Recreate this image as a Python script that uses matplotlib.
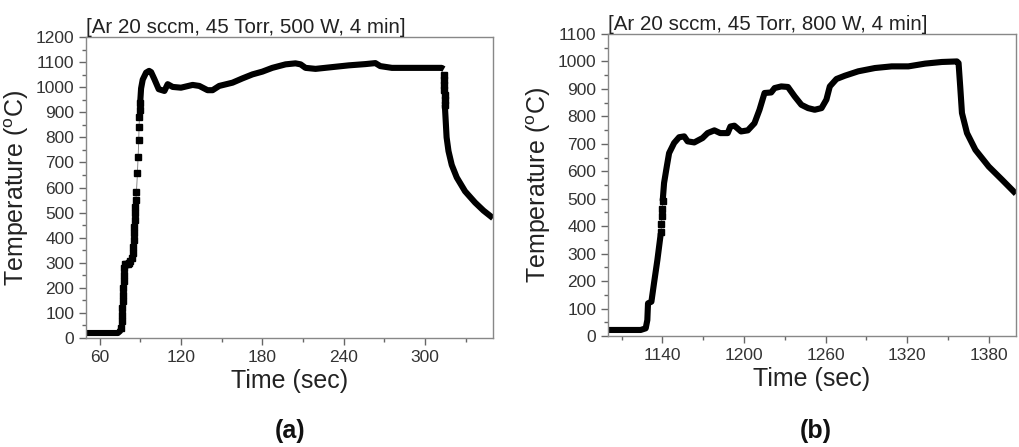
import numpy as np
import matplotlib
matplotlib.use("Agg")
import matplotlib.pyplot as plt
from matplotlib.ticker import MultipleLocator

plt.rcParams['font.family'] = ['Liberation Sans', 'DejaVu Sans']

# ---- panel (a): 500 W ----
a_title = "[Ar 20 sccm, 45 Torr, 500 W, 4 min]"
# flat start
a_start_t = [50, 60, 70, 73.5, 75.2, 75.6]
a_start_T = [20, 20, 20, 20, 28, 35]
# sampled rise (individual points visible)
a_rise_t = [75.9, 76.2, 76.4, 76.7, 77.0, 77.2, 77.5, 77.7, 78.0, 78.3, 78.8, 79.6, 80.6,
            81.6, 82.6, 83.6, 84.5, 85.0, 85.2, 85.5, 85.7, 86.0, 86.2, 86.4, 86.7,
            87.2, 87.9, 88.4, 88.9, 89.1, 89.4, 89.6, 89.9]
a_rise_T = [40, 67, 93, 120, 147, 173, 200, 227, 253, 280, 296, 296, 297,
            300, 306, 318, 338, 364, 391, 417, 444, 470, 497, 524, 550,
            583, 656, 723, 789, 842, 882, 909, 935]
# smooth hold
a_hold_t = [89.9, 90.6, 91.8, 94.3, 96.5, 98.0, 100.4, 103.6, 107.8, 110.2, 113.9, 120, 128.6,
            133.5, 139.6, 143.3, 148.2, 158, 165.3, 172.7, 180, 187.3, 197.1, 204.4,
            208.2, 211.8, 219.2, 231.4, 243.7, 255.9, 263.3, 266.9, 275.5, 292.7, 312.2, 313.8]
a_hold_T = [935, 995, 1030, 1058, 1065, 1060, 1032, 992, 985, 1012, 1001, 998, 1009,
            1005, 988, 988, 1005, 1018, 1035, 1051, 1062, 1077, 1091, 1095,
            1091, 1077, 1073, 1080, 1087, 1092, 1096, 1084, 1077, 1077, 1077, 1072]
# sampled drop
a_drop_t = [313.9, 314.0, 314.1, 314.2, 314.3, 314.4, 314.5]
a_drop_T = [1050, 1029, 1009, 989, 969, 949, 929]
# smooth cooling
a_cool_t = [314.5, 315.0, 315.8, 317.2, 319.6, 323.3, 329.4, 336.8, 343, 350]
a_cool_T = [929, 880, 800, 745, 690, 640, 585, 540, 508, 478]

# ---- panel (b): 800 W ----
b_title = "[Ar 20 sccm, 45 Torr, 800 W, 4 min]"
b_start_t = [1100, 1110, 1124, 1127.7, 1128.9, 1129.4, 1131.9, 1133.8, 1136.3, 1138.8]
b_start_T = [22, 22, 22, 28, 58, 119, 125, 192, 277, 374]
b_rise_t = [1139.0, 1139.3, 1139.6, 1139.9, 1140.2]
b_rise_T = [380, 408, 436, 464, 492]
b_rest_t = [1140.2, 1141.2, 1143.2, 1144.9, 1148.6, 1152.3, 1156, 1158.5, 1163.4, 1169.5,
            1173.2, 1178.2, 1182.5, 1188, 1190, 1192.9, 1197.8, 1202.8, 1207.7, 1211.4,
            1215.1, 1220, 1222.5, 1227.4, 1232.3, 1237.2, 1242.2, 1247.1, 1252, 1257,
            1260.6, 1263.1, 1268, 1274.2, 1284, 1296.3, 1308.6, 1320.9, 1333.2, 1345.5,
            1356.6, 1357.8, 1359, 1360.3, 1364, 1370.2, 1380, 1389.8, 1400]
b_rest_T = [492, 557, 617, 666, 703, 724, 727, 709, 705, 721,
            739, 749, 739, 739, 763, 766, 745, 749, 775, 824,
            885, 887, 903, 909, 907, 873, 842, 830, 824, 830,
            861, 909, 936, 948, 964, 976, 982, 982, 992, 998,
            1000, 994, 909, 812, 739, 678, 617, 569, 518]

fig = plt.figure(figsize=(10.19, 4.47), dpi=100)
ax1 = fig.add_axes([0.0844, 0.2438, 0.3994, 0.6734])
ax2 = fig.add_axes([0.5967, 0.2483, 0.4003, 0.6757])

thick = dict(color='black', lw=4.4, solid_capstyle='butt', solid_joinstyle='round')
dots = dict(color='#777777', lw=0.6, marker='s', ms=4.8, mfc='black', mec='black')

ax1.plot(a_start_t, a_start_T, **thick)
ax1.plot(a_rise_t, a_rise_T, **dots)
ax1.plot(a_hold_t, a_hold_T, **thick)
ax1.plot(a_drop_t, a_drop_T, **dots)
ax1.plot(a_cool_t, a_cool_T, **thick)

ax2.plot(b_start_t, b_start_T, **thick)
ax2.plot(b_rise_t, b_rise_T, **dots)
ax2.plot(b_rest_t, b_rest_T, **thick)

setup = [(ax1, a_title, (50, 350), (0, 1200), 60, '(a)', 290),
         (ax2, b_title, (1100, 1400), (0, 1100), 1140, '(b)', 816)]
for ax, title, xl, yl, x0, tag, tag_x in setup:
    ax.set_xlim(*xl)
    ax.set_ylim(*yl)
    ax.set_xticks(np.arange(x0, xl[1] + 1, 60))
    ax.set_yticks(np.arange(0, yl[1] + 1, 100))
    ax.xaxis.set_minor_locator(MultipleLocator(30))
    ax.yaxis.set_minor_locator(MultipleLocator(50))
    ax.tick_params(which='both', direction='out', colors='#666666', labelcolor='#333333',
                   labelsize=12.5, top=False, right=False)
    ax.tick_params(which='major', length=5, width=1)
    ax.tick_params(which='minor', length=3, width=1)
    for s in ax.spines.values():
        s.set_color('#888888')
        s.set_linewidth(1)
    ax.set_xlabel("Time (sec)", fontsize=18, color='#222222', labelpad=3)
    ax.set_ylabel("Temperature ($^{\\mathregular{o}}$C)", fontsize=18, color='#222222', labelpad=3)
    ax.set_title(title, fontsize=14.8, loc='left', color='#222222', pad=3)
    fig.text(tag_x / 1019, 1 - 431 / 447, tag, ha='center', va='center',
             fontsize=18, fontweight='bold', color='#111111')

fig.savefig("out.png", dpi=100)
